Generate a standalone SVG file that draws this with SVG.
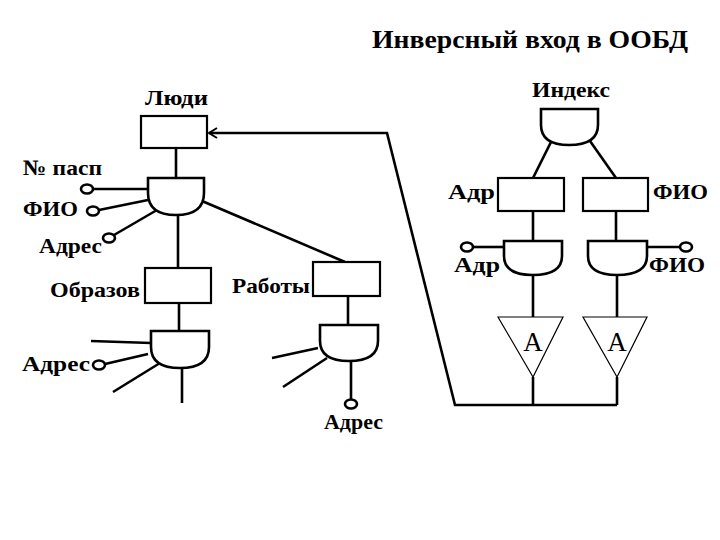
<svg xmlns="http://www.w3.org/2000/svg" width="720" height="540" viewBox="0 0 720 540">
<style>
text{font-family:"Liberation Serif","DejaVu Serif","Times New Roman",serif;font-weight:bold;fill:#000}
.lbl{font-size:22px}
.ttl{font-size:25px}
.a{font-size:27px;font-weight:normal}
.ln{stroke:#000;stroke-width:2.6;fill:none}
.box{stroke:#000;stroke-width:2.2;fill:#fff}
.gate{stroke:#000;stroke-width:2.6;fill:#fff}
.tri{stroke:#000;stroke-width:1.2;fill:#fff}
.pin{stroke:#000;stroke-width:2.6;fill:#fff}
</style>
<defs>
<marker id="arr" viewBox="0 0 12 12" refX="10" refY="6" markerWidth="12" markerHeight="12" markerUnits="userSpaceOnUse" orient="auto">
<polyline points="2,1 10,6 2,11" fill="none" stroke="#000" stroke-width="2"/>
</marker>
</defs>
<text class="ttl" x="372" y="48" textLength="316" lengthAdjust="spacingAndGlyphs">Инверсный вход в ООБД</text>
<g id="connectors">
<line class="ln" x1="176" y1="148" x2="176" y2="178"/>
<line class="ln" x1="93" y1="189" x2="148" y2="189"/>
<line class="ln" x1="99" y1="210" x2="148" y2="200"/>
<line class="ln" x1="114" y1="235" x2="157" y2="210"/>
<line class="ln" x1="178" y1="215" x2="178" y2="268"/>
<line class="ln" x1="202" y1="201" x2="345" y2="262"/>
<line class="ln" x1="179" y1="303" x2="179" y2="331"/>
<line class="ln" x1="91" y1="341" x2="151" y2="343"/>
<line class="ln" x1="105" y1="364" x2="148" y2="354"/>
<line class="ln" x1="113" y1="392" x2="160" y2="363"/>
<line class="ln" x1="182" y1="368" x2="182" y2="403"/>
<line class="ln" x1="348" y1="296" x2="348" y2="325"/>
<line class="ln" x1="272" y1="358" x2="318" y2="348"/>
<line class="ln" x1="283" y1="387" x2="327" y2="358"/>
<line class="ln" x1="351" y1="360" x2="351" y2="399"/>
<line class="ln" x1="551" y1="142" x2="533" y2="178"/>
<line class="ln" x1="590" y1="141" x2="616" y2="178"/>
<line class="ln" x1="533" y1="211" x2="533" y2="241"/>
<line class="ln" x1="616" y1="211" x2="616" y2="241"/>
<line class="ln" x1="473" y1="247" x2="504" y2="247"/>
<line class="ln" x1="647" y1="247" x2="680" y2="247"/>
<line class="ln" x1="533" y1="275" x2="533" y2="317"/>
<line class="ln" x1="617" y1="275" x2="617" y2="317"/>
<line class="ln" x1="533" y1="377" x2="533" y2="405"/>
<line class="ln" x1="617" y1="377" x2="617" y2="405"/>
<polyline class="ln" points="617,405 455,405 387,133 209,133" marker-end="url(#arr)"/>
</g>
<g id="people">
<text class="lbl" x="145" y="105" textLength="63" lengthAdjust="spacingAndGlyphs">Люди</text>
<rect class="box" x="141" y="116" width="66" height="32"/>
</g>
<g id="people-gate">
<path class="gate" d="M148,178 H204 V193 Q204,215 176,215 Q148,215 148,193 Z"/>
</g>
<g id="pin-passport">
<text class="lbl" x="23" y="175" textLength="79" lengthAdjust="spacingAndGlyphs">№ пасп</text>
<ellipse class="pin" cx="87" cy="189" rx="6" ry="4.5"/>
</g>
<g id="pin-fio">
<text class="lbl" x="23" y="216" textLength="55" lengthAdjust="spacingAndGlyphs">ФИО</text>
<ellipse class="pin" cx="93" cy="211" rx="6" ry="4.5"/>
</g>
<g id="pin-address">
<text class="lbl" x="39" y="253" textLength="63" lengthAdjust="spacingAndGlyphs">Адрес</text>
<ellipse class="pin" cx="109" cy="238" rx="6" ry="4.5"/>
</g>
<g id="education">
<text class="lbl" x="50" y="297" textLength="90" lengthAdjust="spacingAndGlyphs">Образов</text>
<rect class="box" x="145" y="268" width="66" height="35"/>
</g>
<g id="education-gate">
<path class="gate" d="M151,331 H209 V347 Q209,368 180,368 Q151,368 151,347 Z"/>
</g>
<g id="pin-education-address">
<text class="lbl" x="22" y="371" textLength="68" lengthAdjust="spacingAndGlyphs">Адрес</text>
<ellipse class="pin" cx="99" cy="365" rx="6" ry="4.5"/>
</g>
<g id="work">
<text class="lbl" x="232" y="293" textLength="78" lengthAdjust="spacingAndGlyphs">Работы</text>
<rect class="box" x="313" y="262" width="67" height="34"/>
</g>
<g id="work-gate">
<path class="gate" d="M320,325 H378 V341 Q378,361 349,361 Q320,361 320,341 Z"/>
</g>
<g id="pin-work-address">
<ellipse class="pin" cx="351" cy="404" rx="6" ry="4.5"/>
<text class="lbl" x="324" y="429" textLength="59" lengthAdjust="spacingAndGlyphs">Адрес</text>
</g>
<g id="index">
<text class="lbl" x="532" y="97" textLength="78" lengthAdjust="spacingAndGlyphs">Индекс</text>
<path class="gate" d="M541,109 H598 V125 Q598,145 569,145 Q541,145 541,125 Z"/>
</g>
<g id="adr-box">
<text class="lbl" x="448" y="199" textLength="47" lengthAdjust="spacingAndGlyphs">Адр</text>
<rect class="box" x="498" y="178" width="66" height="33"/>
</g>
<g id="fio-box">
<text class="lbl" x="653" y="199" textLength="55" lengthAdjust="spacingAndGlyphs">ФИО</text>
<rect class="box" x="583" y="178" width="65" height="33"/>
</g>
<g id="adr-gate">
<path class="gate" d="M504,241 H562 V256 Q562,275 533,275 Q504,275 504,256 Z"/>
<ellipse class="pin" cx="467" cy="247" rx="6" ry="4.5"/>
<text class="lbl" x="454" y="272" textLength="46" lengthAdjust="spacingAndGlyphs">Адр</text>
</g>
<g id="fio-gate">
<path class="gate" d="M588,241 H647 V256 Q647,275 617,275 Q588,275 588,256 Z"/>
<ellipse class="pin" cx="686" cy="247" rx="6" ry="4.5"/>
<text class="lbl" x="649" y="272" textLength="56" lengthAdjust="spacingAndGlyphs">ФИО</text>
</g>
<g id="tri-adr">
<polygon class="tri" points="498,317 563,317 533,377"/>
<text class="a" x="533" y="351" text-anchor="middle">A</text>
</g>
<g id="tri-fio">
<polygon class="tri" points="583,317 647,317 617,377"/>
<text class="a" x="617" y="351" text-anchor="middle">A</text>
</g>
</svg>
